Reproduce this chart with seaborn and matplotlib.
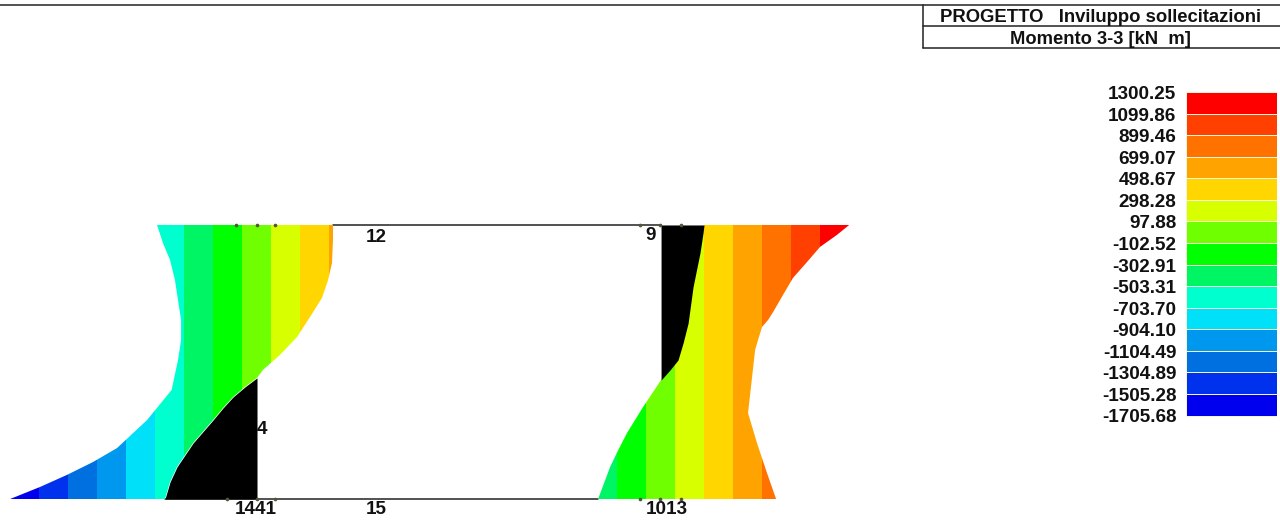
import numpy as np
import matplotlib
matplotlib.use("Agg")
import matplotlib.pyplot as plt
from matplotlib.colors import ListedColormap
from matplotlib.patches import Polygon
import seaborn as sns

# legend values, kN m
band_edges = [1300.25, 1099.86, 899.46, 699.07, 498.67, 298.28, 97.88, -102.52,
              -302.91, -503.31, -703.70, -904.10, -1104.49, -1304.89, -1505.28, -1705.68]
band_colors = ["#ff0000", "#ff4000", "#ff7200", "#ffa300", "#ffd600", "#d8ff00", "#70ff00", "#00ff00",
               "#00f565", "#00ffcf", "#00e0f8", "#0098ee", "#0070e0", "#0032ee", "#0000ee"]

# envelopes, h is percent of the column height from the base
left_min_h = [100, 93.4, 87.2, 79.9, 72.6, 65.3, 58, 50.7, 42.3, 39.8, 28.8, 18.6, 13.5, 8.8, 4.4, 0]
left_min = [-691, -650, -601, -567, -546, -525, -525, -546, -580, -590, -760, -967, -1133, -1313, -1499, -1706]
left_max_h = [100, 94.5, 86.1, 79.9, 73.4, 66.4, 59.1, 52.6, 47.1, 44.2, 40.9, 37.2, 33.2, 28.8, 20.4, 11.7, 6.2, 0]
left_max = [525, 525, 518, 491, 449, 366, 276, 159, 41, 0, -83, -166, -235, -304, -442, -553, -601, -636]

right_max_h = [100, 96.4, 92, 86.5, 80.7, 74.5, 68.2, 65.3, 62.8, 58, 54.4, 44.5, 31.4, 20.4, 9.5, 0]
right_max = [1300, 1216, 1099, 1009, 912, 843, 774, 739, 698, 670, 650, 629, 601, 663, 732, 795]
right_min_h = [100, 97.1, 89.8, 77.4, 64.2, 56.9, 50.7, 47.1, 43.4, 33.6, 24.1, 17, 11.7, 0]
right_min = [297, 290, 269, 221, 187, 152, 117, 62, 0, -124, -235, -304, -352, -435]

# small node marks on the beams
node_x = [-145, 0, 124, -207, 0, 124, 2647, 2785, 2930, 2647, 2785, 2930]
node_h = [100, 100, 100, 0, 0, 0, 100, 100, 100, 0, 0, 0]

node_labels = ["12", "9", "4", "1441", "15", "1013"]

W, H = 1280, 521
COL_GAP = 2792  # distance between the two columns on the moment scale

sns.set_theme(style="white")
plt.rcParams["font.family"] = ["Liberation Sans", "DejaVu Sans"]
plt.rcParams["font.weight"] = "bold"

fig = plt.figure(figsize=(W / 100, H / 100), dpi=100)
ax = fig.add_axes([0, 0, 1, 1])


def fx(px):
    return px / W


def fy(py):
    return 1 - py / H


def hline(y, x0=0, x1=W, lw=1.1):
    fig.add_artist(plt.Line2D([fx(x0), fx(x1)], [fy(y), fy(y)], color="#222222", lw=lw))


# frame
ax.plot([525, COL_GAP], [100, 100], color="#222222", lw=1.1, zorder=1)
ax.plot([-636, COL_GAP - 435], [0, 0], color="#222222", lw=1.1, zorder=1)


def draw_column(offset, min_h, min_v, max_h, max_v):
    min_h, min_v = np.array(min_h), np.array(min_v)
    max_h, max_v = np.array(max_h), np.array(max_v)
    outline = np.vstack([
        np.column_stack([min_v + offset, min_h]),
        np.column_stack([max_v[::-1] + offset, max_h[::-1]]),
    ])
    clip = Polygon(outline, closed=True, transform=ax.transData, fc="none", ec="none")
    ax.add_patch(clip)
    for i, c in enumerate(band_colors):
        band = ax.axvspan(band_edges[i + 1] + offset, band_edges[i] + offset,
                          color=c, lw=0, zorder=2)
        band.set_clip_path(clip)
    # the part of the envelope that does not reach the column is black
    ax.fill_betweenx(max_h, max_v + offset, offset, where=max_v <= 0, color="black", lw=0, zorder=3)
    ax.fill_betweenx(min_h, min_v + offset, offset, where=min_v >= 0, color="black", lw=0, zorder=3)


draw_column(0, left_min_h, left_min, left_max_h, left_max)
draw_column(COL_GAP, right_min_h, right_min, right_max_h, right_max)
sns.scatterplot(x=node_x, y=node_h, ax=ax, color="#55553a", s=7, linewidth=0, zorder=4, legend=False)

ax.set_xlim(-1776, 7069)
ax.set_ylim(-8.03, 182.1)
ax.axis("off")

# legend
mids = [[(band_edges[i] + band_edges[i + 1]) / 2] for i in range(len(band_colors))]
cax = fig.add_axes([fx(1186), fy(418), fx(91), (418 - 92) / H])
sns.heatmap(mids, ax=cax, cmap=ListedColormap(band_colors[::-1]), cbar=False,
            vmin=band_edges[-1], vmax=band_edges[0], linewidths=0.6, linecolor="#f4f4d8")
cax.set_xticks([])
cax.set_yticks(np.arange(len(band_edges)) + 0.115)
cax.set_yticklabels([f"{v:.2f}" for v in band_edges], rotation=0, fontsize=13.6,
                    fontweight="bold", color="#111111")
cax.tick_params(axis="y", length=0, pad=7)

# title block
hline(5)
hline(26, 923)
hline(48, 923)
fig.add_artist(plt.Line2D([fx(923), fx(923)], [fy(5), fy(48)], color="#222222", lw=1.1))
fig.text(fx(1101), fy(17), "PROGETTO   Inviluppo sollecitazioni", fontsize=13.3,
         ha="center", va="center", color="#111111")
fig.text(fx(1100), fy(39), "Momento 3-3 [kN  m]", fontsize=13.2,
         ha="center", va="center", color="#111111")

# node numbers
node_px = [(376, 237), (651, 236), (262, 430), (256, 510), (376, 510), (667, 510)]
for lab, (px, py) in zip(node_labels, node_px):
    fig.text(fx(px), fy(py), lab, fontsize=13.6, ha="center", va="center", color="#111111", zorder=5)

fig.savefig("out.png", dpi=100)
